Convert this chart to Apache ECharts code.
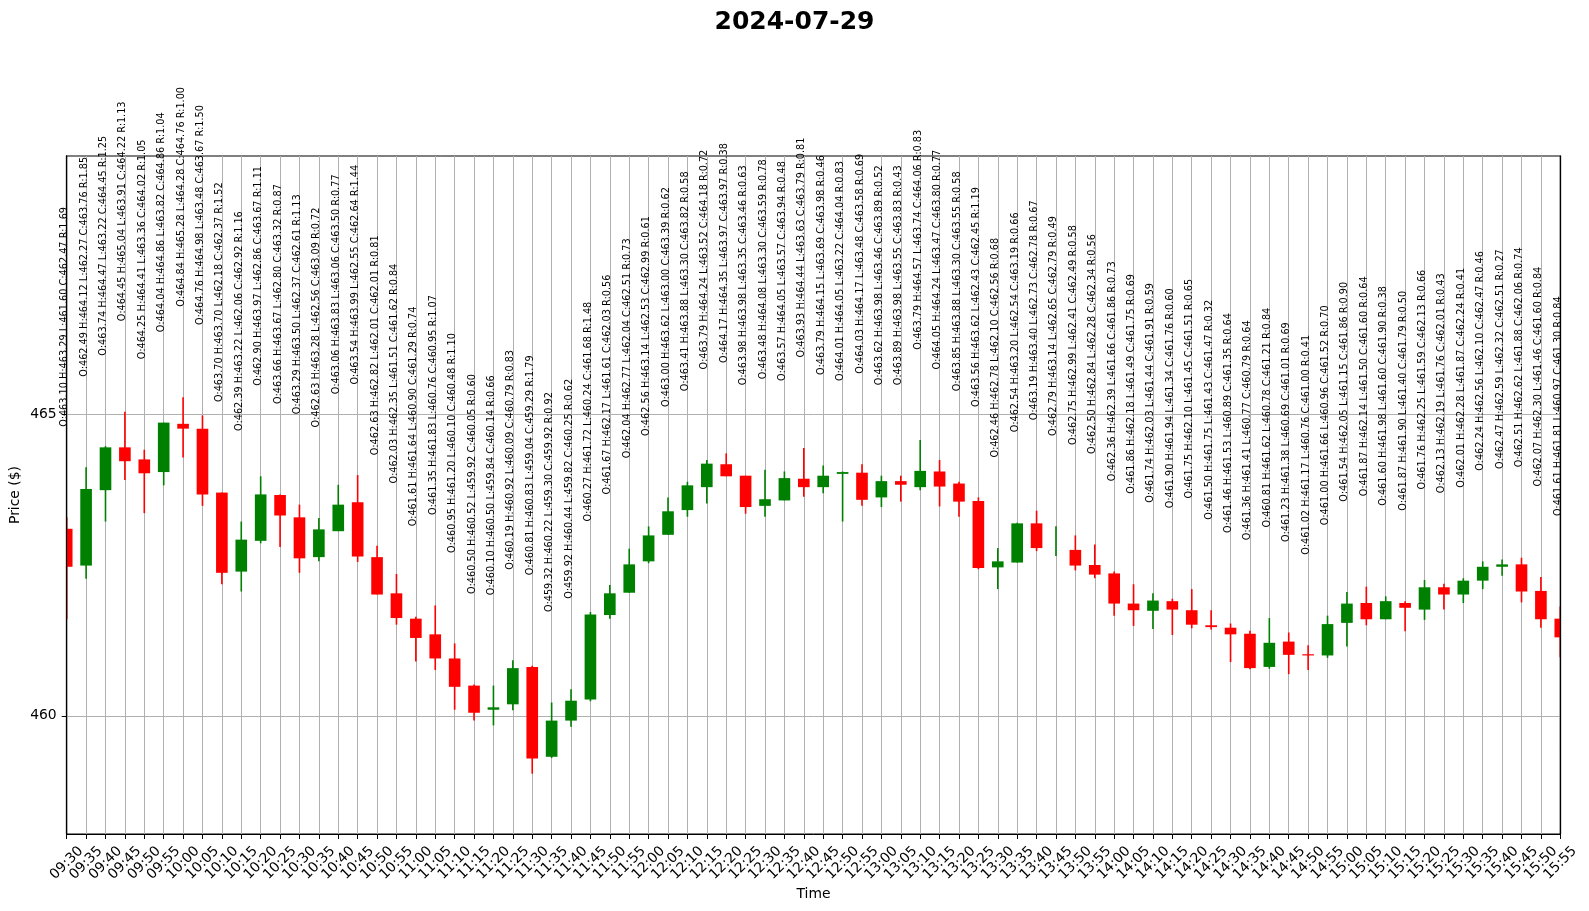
<!DOCTYPE html>
<html>
<head>
<meta charset="utf-8">
<script src="https://cdn.jsdelivr.net/npm/echarts@6/dist/echarts.min.js"></script>
<style>html,body{margin:0;padding:0;background:#fff}#chart{width:1589px;height:911px}</style>
</head>
<body>
<div id="chart"></div>
<script>
const times = ['09:30','09:35','09:40','09:45','09:50','09:55','10:00','10:05','10:10','10:15',
'10:20','10:25','10:30','10:35','10:40','10:45','10:50','10:55','11:00','11:05',
'11:10','11:15','11:20','11:25','11:30','11:35','11:40','11:45','11:50','11:55',
'12:00','12:05','12:10','12:15','12:20','12:25','12:30','12:35','12:40','12:45',
'12:50','12:55','13:00','13:05','13:10','13:15','13:20','13:25','13:30','13:35',
'13:40','13:45','13:50','13:55','14:00','14:05','14:10','14:15','14:20','14:25',
'14:30','14:35','14:40','14:45','14:50','14:55','15:00','15:05','15:10','15:15',
'15:20','15:25','15:30','15:35','15:40','15:45','15:50','15:55'];

const opens = [463.10,462.49,463.74,464.45,464.25,464.04,464.84,464.76,463.70,462.39,
462.90,463.66,463.29,462.63,463.06,463.54,462.63,462.03,461.61,461.35,
460.95,460.50,460.10,460.19,460.81,459.32,459.92,460.27,461.67,462.04,
462.56,463.00,463.41,463.79,464.17,463.98,463.48,463.57,463.93,463.79,
464.01,464.03,463.62,463.89,463.79,464.05,463.85,463.56,462.46,462.54,
463.19,462.79,462.75,462.50,462.36,461.86,461.74,461.90,461.75,461.50,
461.46,461.36,460.81,461.23,461.02,461.00,461.54,461.87,461.60,461.87,
461.76,462.13,462.01,462.24,462.47,462.51,462.07,461.61];

const highs = [463.29,464.12,464.47,465.04,464.41,464.86,465.28,464.98,463.70,463.22,
463.97,463.67,463.50,463.28,463.83,463.99,462.82,462.35,461.64,461.83,
461.20,460.52,460.50,460.92,460.83,460.22,460.44,461.72,462.17,462.77,
463.14,463.62,463.88,464.24,464.35,463.98,464.08,464.05,464.44,464.15,
464.05,464.17,463.98,463.98,464.57,464.24,463.88,463.62,462.78,463.20,
463.40,463.14,462.99,462.84,462.39,462.18,462.03,461.94,462.10,461.75,
461.53,461.41,461.62,461.38,461.17,461.66,462.05,462.14,461.98,461.90,
462.25,462.19,462.28,462.56,462.59,462.62,462.30,461.81];

const lows = [461.60,462.27,463.22,463.91,463.36,463.82,464.28,463.48,462.18,462.06,
462.86,462.80,462.37,462.56,463.06,462.55,462.01,461.51,460.90,460.76,
460.10,459.92,459.84,460.09,459.04,459.30,459.82,460.24,461.61,462.04,
462.53,463.00,463.30,463.52,463.97,463.35,463.30,463.57,463.63,463.69,
463.22,463.48,463.46,463.55,463.74,463.47,463.30,462.43,462.10,462.54,
462.73,462.65,462.41,462.28,461.66,461.49,461.44,461.34,461.45,461.43,
460.89,460.77,460.78,460.69,460.76,460.96,461.15,461.50,461.60,461.40,
461.59,461.76,461.87,462.10,462.32,461.88,461.46,460.97];

const closes = [462.47,463.76,464.45,464.22,464.02,464.86,464.76,463.67,462.37,462.92,
463.67,463.32,462.61,463.09,463.50,462.64,462.01,461.62,461.29,460.95,
460.48,460.05,460.14,460.79,459.29,459.92,460.25,461.68,462.03,462.51,
462.99,463.39,463.82,464.18,463.97,463.46,463.59,463.94,463.79,463.98,
464.04,463.58,463.89,463.83,464.06,463.80,463.55,462.45,462.56,463.19,
462.78,462.79,462.49,462.34,461.86,461.75,461.91,461.76,461.51,461.47,
461.35,460.79,461.21,461.01,461.00,461.52,461.86,461.60,461.90,461.79,
462.13,462.01,462.24,462.47,462.51,462.06,461.60,461.30];

const ranges = [1.69,1.85,1.25,1.13,1.05,1.04,1.00,1.50,1.52,1.16,
1.11,0.87,1.13,0.72,0.77,1.44,0.81,0.84,0.74,1.07,
1.10,0.60,0.66,0.83,1.79,0.92,0.62,1.48,0.56,0.73,
0.61,0.62,0.58,0.72,0.38,0.63,0.78,0.48,0.81,0.46,
0.83,0.69,0.52,0.43,0.83,0.77,0.58,1.19,0.68,0.66,
0.67,0.49,0.58,0.56,0.73,0.69,0.59,0.60,0.65,0.32,
0.64,0.64,0.84,0.69,0.41,0.70,0.90,0.64,0.38,0.50,
0.66,0.43,0.41,0.46,0.27,0.74,0.84,0.84];

const yTicks = [460, 465];
const titleText = '2024-07-29';

// axis limits follow the data with fixed padding
const yMin = Math.min(...lows) - 1;
const yMax = Math.max(...highs) + 4;
const LABEL_OFFSET = 1.5;   // data units above the high
const LABEL_DX = -2;        // px
const BODY_FRAC = 0.6;      // body width as a fraction of the category step
const WICK_W = 1.6;
const UP = 'green', DOWN = 'red';
const FONT = 'DejaVu Sans';

const candleData = opens.map((o, i) => [i, o, closes[i], lows[i], highs[i]]);
const labelData = highs.map((h, i) => [i, h]);
const labelText = i => 'O:' + opens[i].toFixed(2) + ' H:' + highs[i].toFixed(2) +
  ' L:' + lows[i].toFixed(2) + ' C:' + closes[i].toFixed(2) + ' R:' + ranges[i].toFixed(2);

// spine-only axes drawn above the candles (like matplotlib's frame)
const spineAxis = pos => ({
  type: 'value', min: yMin, max: yMax, scale: true, position: pos, z: 10,
  axisLine: {show: true, onZero: false, lineStyle: {color: '#000', width: 1.3}},
  axisTick: {show: false}, axisLabel: {show: false}, splitLine: {show: false}
});

const chart = echarts.init(document.getElementById('chart'), null, {renderer: 'canvas'});
chart.setOption({
  animation: false,
  backgroundColor: '#fff',
  title: {
    text: titleText, left: 'center', top: 5,
    textStyle: {fontFamily: FONT, fontSize: 25, fontWeight: 'bold', color: '#000'}
  },
  grid: {
    left: 66.7, right: 28.7, top: 156, bottom: 77,
    show: true, borderColor: '#000', borderWidth: 1, backgroundColor: 'transparent',
    containLabel: false, outerBoundsMode: 'none'
  },
  xAxis: {
    type: 'category', data: times, boundaryGap: false,
    name: 'Time', nameLocation: 'middle', nameGap: 53, nameMoveOverlap: false,
    nameTextStyle: {fontFamily: FONT, fontSize: 13.9, color: '#000'},
    axisLine: {show: true, lineStyle: {color: '#000', width: 1}},
    axisTick: {show: true, interval: 0, length: 5, inside: false, lineStyle: {color: '#000', width: 1}},
    axisLabel: {
      interval: 0, rotate: 45, align: 'center', margin: 29, hideOverlap: false,
      fontFamily: FONT, fontSize: 13.9, color: '#000'
    },
    splitLine: {show: true, interval: 0, lineStyle: {color: '#b0b0b0', width: 1}}
  },
  yAxis: [
    {
      type: 'value', min: yMin, max: yMax, scale: true, splitNumber: 2, position: 'left',
      name: 'Price ($)', nameLocation: 'middle', nameGap: 44, nameRotate: 90, nameMoveOverlap: false,
      nameTextStyle: {fontFamily: FONT, fontSize: 13.9, color: '#000'},
      axisLine: {show: true, lineStyle: {color: '#000', width: 1}},
      axisTick: {show: true, length: 5, inside: false, customValues: yTicks, lineStyle: {color: '#000', width: 1}},
      axisLabel: {
        customValues: yTicks, margin: 10, formatter: v => String(Math.round(v)),
        fontFamily: FONT, fontSize: 13.9, color: '#000'
      },
      splitLine: {show: true, lineStyle: {color: '#b0b0b0', width: 1}}
    },
    spineAxis('left'),
    spineAxis('right')
  ],
  series: [
    {
      type: 'custom',
      name: 'OHLC',
      data: candleData,
      clip: true,
      silent: true,
      z: 2,
      renderItem: function (params, api) {
        const idx = api.value(0);
        const o = api.value(1), c = api.value(2), l = api.value(3), h = api.value(4);
        const color = c >= o ? UP : DOWN;
        const pO = api.coord([idx, o]);
        const pC = api.coord([idx, c]);
        const pL = api.coord([idx, l]);
        const pH = api.coord([idx, h]);
        const w = api.size([1, 0])[0] * BODY_FRAC;
        const top = Math.min(pO[1], pC[1]);
        const hgt = Math.abs(pO[1] - pC[1]);
        const children = [
          {
            type: 'line',
            shape: {x1: pL[0], y1: pL[1], x2: pH[0], y2: pH[1]},
            style: {stroke: color, lineWidth: WICK_W}
          }
        ];
        if (hgt > 0) {
          children.push({
            type: 'rect',
            shape: {x: pO[0] - w / 2, y: top, width: w, height: hgt},
            style: {fill: color}
          });
        }
        return {type: 'group', children: children};
      }
    },
    {
      type: 'custom',
      name: 'labels',
      data: labelData,
      silent: true,
      clip: false,
      z: 3,
      renderItem: function (params, api) {
        const i = params.dataIndex;
        const pt = api.coord([api.value(0), api.value(1) + LABEL_OFFSET]);
        return {
          type: 'text',
          x: pt[0] + LABEL_DX, y: pt[1],
          rotation: Math.PI / 2,
          style: {
            text: labelText(i), fill: '#000',
            fontFamily: FONT, fontSize: 9.72,
            align: 'left', verticalAlign: 'middle'
          }
        };
      }
    }
  ]
});
</script>
</body>
</html>
